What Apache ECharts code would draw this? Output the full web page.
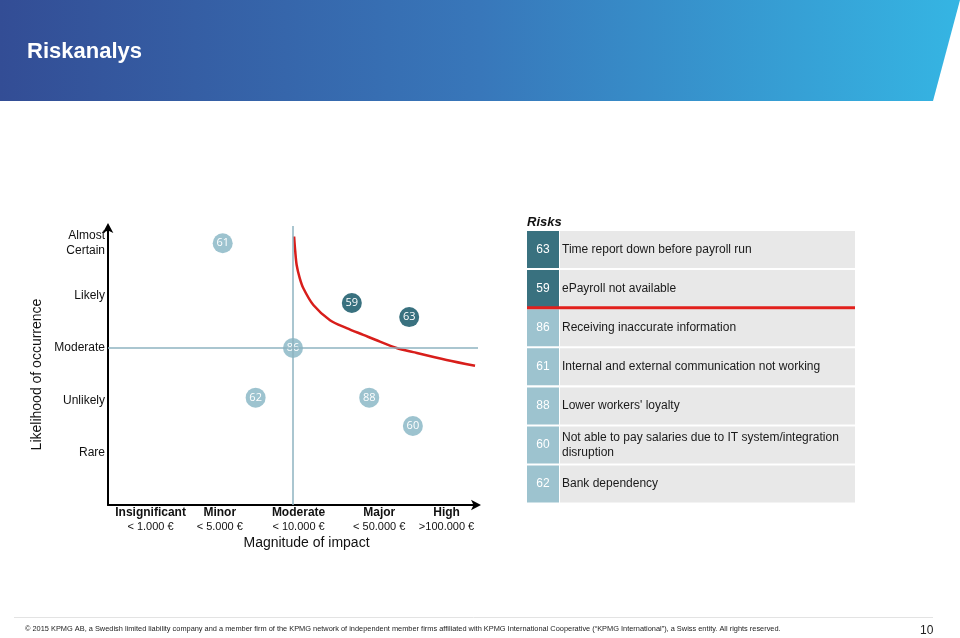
<!DOCTYPE html>
<html>
<head>
<meta charset="utf-8">
<script src="https://cdn.jsdelivr.net/npm/echarts@6/dist/echarts.min.js"></script>
<style>
html,body{margin:0;padding:0;background:#fff;}
#chart{width:960px;height:638px;}
</style>
</head>
<body>
<div id="chart"></div>
<script>
// ---- data ----
const likelihoodLabels = ['Rare', 'Unlikely', 'Moderate', 'Likely', 'Almost\nCertain'];
const likelihoodTicks = [1, 2, 3, 4, 5];
const impactNames = ['Insignificant', 'Minor', 'Moderate', 'Major', 'High'];
const impactRanges = ['< 1.000 €', '< 5.000 €', '< 10.000 €', '< 50.000 €', '>100.000 €'];
const impactTicks = [1.15, 3.02, 5.15, 7.33, 9.15];

const riskIds        = [61, 59, 63, 86, 62, 88, 60];
const riskImpact     = [3.1, 6.59, 8.14, 5.0, 3.99, 7.06, 8.24];
const riskLikelihood = [5.0, 3.86, 3.59, 3.0, 2.05, 2.05, 1.51];
const riskHigh       = [false, true, true, false, false, false, false];

const curveX = [5.03, 5.06, 5.10, 5.18, 5.28, 5.55, 6.0, 6.45, 6.9, 7.35, 7.8, 8.25, 9.15, 9.92];
const curveY = [5.13, 4.85, 4.58, 4.34, 4.14, 3.82, 3.53, 3.38, 3.25, 3.12, 3.0, 2.92, 2.77, 2.66];

const guideImpact = 5;
const guideLikelihood = 3;

const tableIds  = [63, 59, 86, 61, 88, 60, 62];
const tableText = [
  'Time report down before payroll run',
  'ePayroll not available',
  'Receiving inaccurate information',
  'Internal and external communication not working',
  "Lower workers' loyalty",
  'Not able to pay salaries due to IT system/integration\ndisruption',
  'Bank dependency'
];
const tableHigh = [true, true, false, false, false, false, false];
const tableCutAfter = 2;

// ---- styles ----
const DARK = '#39717f';
const LIGHT = '#9dc3cf';
const FONT = 'Liberation Sans, Arial, sans-serif';

function idx(arr, v) {
  for (let i = 0; i < arr.length; i++) if (Math.abs(arr[i] - v) < 1e-6) return i;
  return -1;
}

const chart = echarts.init(document.getElementById('chart'), null, {renderer: 'canvas'});

const graphics = [];
graphics.push({
  type: 'polygon', silent: true,
  shape: {points: [[0, 0], [960, 0], [933, 101], [0, 101]]},
  style: {fill: new echarts.graphic.LinearGradient(0, 0, 1, 0, [
    {offset: 0, color: '#334d95'},
    {offset: 0.5, color: '#3877ba'},
    {offset: 1, color: '#35b5e3'}
  ])}
});
graphics.push({
  type: 'text', left: 27, top: 41,
  style: {text: 'Riskanalys', fill: '#fff', font: 'bold 22px ' + FONT}
});
graphics.push({
  type: 'text', left: 527, top: 216,
  style: {text: 'Risks', fill: '#111', font: 'italic bold 13px ' + FONT}
});
const rowTop = 231, rowPitch = 39.1, rowH = 37;
for (let i = 0; i < tableIds.length; i++) {
  const y = rowTop + i * rowPitch;
  graphics.push({type: 'rect', silent: true, shape: {x: 527, y: y, width: 32, height: rowH},
    style: {fill: tableHigh[i] ? DARK : LIGHT}});
  graphics.push({type: 'rect', silent: true, shape: {x: 560, y: y, width: 295, height: rowH},
    style: {fill: '#e8e8e8'}});
  graphics.push({type: 'text', silent: true, x: 543, y: y + rowH / 2,
    style: {text: String(tableIds[i]), fill: '#fff', font: '12px ' + FONT, align: 'center', verticalAlign: 'middle'}});
  graphics.push({type: 'text', silent: true, x: 562, y: y + rowH / 2,
    style: {text: tableText[i], fill: '#1a1a1a', font: '12px ' + FONT, align: 'left', verticalAlign: 'middle', lineHeight: 15}});
}
const cutY = rowTop + tableCutAfter * rowPitch - 1.5;
graphics.push({type: 'line', silent: true, shape: {x1: 527, y1: cutY, x2: 855, y2: cutY},
  style: {stroke: '#e2201c', lineWidth: 3}});
graphics.push({type: 'line', silent: true, shape: {x1: 14, y1: 617.5, x2: 933, y2: 617.5},
  style: {stroke: '#e3e3e3', lineWidth: 1}});
graphics.push({type: 'text', left: 25, top: 625,
  style: {text: '© 2015 KPMG AB, a Swedish limited liability company and a member firm of the KPMG network of independent member firms affiliated with KPMG International Cooperative (“KPMG International”), a Swiss entity. All rights reserved.',
  fill: '#222', font: '7.4px ' + FONT}});
graphics.push({type: 'text', left: 920, top: 625,
  style: {text: '10', fill: '#222', font: '12px ' + FONT}});

const option = {
  backgroundColor: '#fff',
  animation: false,
  textStyle: {fontFamily: FONT},
  graphic: graphics,
  grid: {left: 108, right: 482, top: 226, bottom: 133, containLabel: false},
  xAxis: {
    type: 'value', min: 0, max: 10,
    name: 'Magnitude of impact', nameLocation: 'middle', nameGap: 31,
    nameTextStyle: {fontSize: 14, color: '#111', padding: [0, 0, 0, 27]},
    axisLine: {show: true, symbol: ['none', 'arrow'], symbolSize: [8, 10], symbolOffset: [0, 3],
      lineStyle: {color: '#000', width: 2}},
    axisTick: {show: false},
    splitLine: {show: false},
    axisLabel: {
      customValues: impactTicks, margin: 1,
      formatter: function (v) {
        const i = idx(impactTicks, v);
        if (i < 0) return '';
        return '{b|' + impactNames[i] + '}\n{v|' + impactRanges[i] + '}';
      },
      rich: {
        b: {fontSize: 12, fontWeight: 'bold', color: '#111', lineHeight: 14, fontFamily: FONT},
        v: {fontSize: 11, color: '#111', lineHeight: 14, fontFamily: FONT}
      }
    }
  },
  yAxis: {
    type: 'value', min: 0, max: 5.33,
    name: 'Likelihood of occurrence', nameLocation: 'middle', nameGap: 64, nameRotate: 90,
    nameTextStyle: {fontSize: 14, color: '#111', padding: [0, 18, 0, 0]},
    axisLine: {show: true, symbol: ['none', 'arrow'], symbolSize: [8, 10], symbolOffset: [0, 3],
      lineStyle: {color: '#000', width: 2}},
    axisTick: {show: false},
    splitLine: {show: false},
    axisLabel: {
      customValues: likelihoodTicks, margin: 3,
      color: '#111', fontSize: 12, lineHeight: 15, align: 'right',
      formatter: function (v) {
        const i = idx(likelihoodTicks, v);
        return i < 0 ? '' : likelihoodLabels[i];
      }
    }
  },
  series: [
    {
      name: 'guides', type: 'line', data: [], z: 1, silent: true,
      markLine: {
        silent: true, symbol: 'none', animation: false,
        label: {show: false},
        lineStyle: {color: '#8eb3c0', width: 1.5, type: 'solid'},
        data: [{xAxis: guideImpact}, {yAxis: guideLikelihood}]
      }
    },
    {
      name: 'threshold', type: 'line', z: 2, silent: true,
      smooth: 0.3, showSymbol: false, symbol: 'none',
      lineStyle: {color: '#d81e1b', width: 2.5},
      data: curveX.map((x, i) => [x, curveY[i]])
    },
    {
      name: 'risks', type: 'scatter', z: 3,
      symbolSize: 20,
      label: {show: true, position: 'inside', color: '#fff', fontSize: 11, fontFamily: 'Open Sans',
        formatter: p => p.data.id},
      data: riskIds.map((id, i) => ({
        value: [riskImpact[i], riskLikelihood[i]], id: String(id),
        itemStyle: {color: riskHigh[i] ? DARK : LIGHT, opacity: 1}
      }))
    }
  ]
};
chart.setOption(option);
</script>
</body>
</html>
